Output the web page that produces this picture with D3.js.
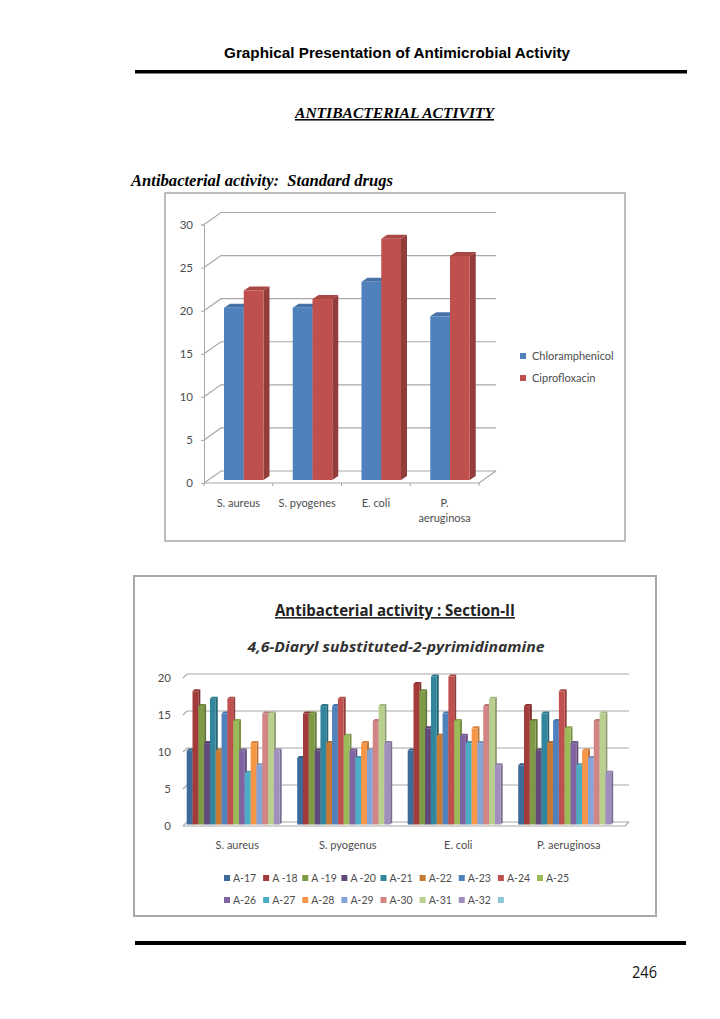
<!DOCTYPE html>
<html>
<head>
<meta charset="utf-8">
<script src="https://d3js.org/d3.v7.min.js"></script>
<style>
    html, body { margin: 0; padding: 0; background: #fff; }
    svg { display: block; }
</style>
</head>
<body>
<script>
// first chart
var drugCategories = ["S. aureus", "S. pyogenes", "E. coli", "P. aeruginosa"];
var drugNames = ["Chloramphenicol", "Ciprofloxacin"];
var chloramphenicol = [20, 20, 23, 19];
var ciprofloxacin = [22, 21, 28, 26];
var drugTicks = [0, 5, 10, 15, 20, 25, 30];
var drugColors = ["#4f81bd", "#c0504d"];

// second chart
var sectionCategories = ["S. aureus", "S. pyogenus", "E. coli", "P. aeruginosa"];
var sectionNames = ["A-17", "A -18", "A -19", "A -20", "A-21", "A-22", "A-23", "A-24", "A-25",
    "A-26", "A-27", "A-28", "A-29", "A-30", "A-31", "A-32", ""];
var sAureus = [10, 18, 16, 11, 17, 10, 15, 17, 14, 10, 7, 11, 8, 15, 15, 10];
var sPyogenus = [9, 15, 15, 10, 16, 11, 16, 17, 12, 10, 9, 11, 10, 14, 16, 11];
var eColi = [10, 19, 18, 13, 20, 12, 15, 20, 14, 12, 11, 13, 11, 16, 17, 8];
var pAeruginosa = [8, 16, 14, 10, 15, 11, 14, 18, 13, 11, 8, 10, 9, 14, 15, 7];
var sectionTicks = [0, 5, 10, 15, 20];
var sectionColors = ["#3d6a99", "#a23b39", "#7f9a44", "#604a7b", "#31859c", "#c77a35",
    "#4f81bd", "#c0504d", "#9bbb59", "#8064a2", "#4bacc6", "#f79646",
    "#84a4d8", "#d18584", "#b9cf8e", "#a08fbe", "#8cc7d6"];

const svg = d3.select("body").append("svg")
    .attr("width", 720)
    .attr("height", 1019)
    .attr("viewBox", [0, 0, 720, 1019]);

const labelFont = "Lato, 'Open Sans', sans-serif";
const labelColor = "#4d4d4d";
const gridColor = "#a8a8a8";

function pageText(text, x, y, size, family, opts) {
    return svg.append("text")
        .attr("x", x)
        .attr("y", y)
        .attr("font-family", family)
        .attr("font-size", size)
        .attr("font-weight", "bold")
        .attr("font-style", opts && opts.italic ? "italic" : "normal")
        .attr("text-decoration", opts && opts.underline ? "underline" : "none")
        .attr("text-anchor", opts && opts.anchor ? opts.anchor : "start")
        .attr("fill", opts && opts.fill ? opts.fill : "#000")
        .attr("textLength", opts && opts.length ? opts.length : null)
        .attr("lengthAdjust", "spacingAndGlyphs")
        .text(text);
}

function frame(x, y, w, h, sw) {
    svg.append("rect")
        .attr("x", x).attr("y", y).attr("width", w).attr("height", h)
        .attr("fill", "#fff")
        .attr("stroke", "#a8a8a8")
        .attr("stroke-width", sw);
}

// 3D column = front face, top and right side
function bar3d(g, x0, w, yTop, yBase, dx, dy, color) {
    const darker = d3.color(color).darker(0.75);
    const dark = d3.color(color).darker(0.35);
    g.append("path")
        .attr("fill", darker)
        .attr("d", d3.line()([[x0 + w, yTop], [x0 + w + dx, yTop - dy], [x0 + w + dx, yBase - dy], [x0 + w, yBase]]) + "Z");
    g.append("path")
        .attr("fill", dark)
        .attr("d", d3.line()([[x0, yTop], [x0 + dx, yTop - dy], [x0 + w + dx, yTop - dy], [x0 + w, yTop]]) + "Z");
    g.append("rect")
        .attr("x", x0)
        .attr("y", yTop)
        .attr("width", w)
        .attr("height", yBase - yTop)
        .attr("fill", color);
}

function walls(g, x, y, ticks, dx, dy, sw) {
    const [x0, x1] = x.range();
    g.selectAll(".grid")
        .data(ticks)
        .join("path")
        .attr("fill", "none")
        .attr("stroke", gridColor)
        .attr("stroke-width", sw)
        .attr("d", d => d3.line()([[x0, y(d)], [x0 + dx, y(d) - dy], [x1 + dx, y(d) - dy]]));
    g.append("path")
        .attr("fill", "none")
        .attr("stroke", gridColor)
        .attr("stroke-width", sw)
        .attr("d", d3.line()([[x0, y(0)], [x1, y(0)], [x1 + dx, y(0) - dy]]));
}

function drawDrugChart() {
    frame(165, 193, 460, 348, 1.5);
    const g = svg.append("g");
    const x = d3.scaleBand().domain(drugCategories).range([204, 479]);
    const y = d3.scaleLinear().domain([0, 30]).range([483, 224.5]);
    const dx = 17, dy = 12;
    walls(g, x, y, drugTicks, dx, dy, 1.2);

    // axis
    const axisY = g.append("g")
        .attr("transform", "translate(204,0)")
        .call(d3.axisLeft(y).tickValues(drugTicks).tickSize(3).tickPadding(8));
    axisY.select(".domain").attr("stroke", gridColor);
    axisY.selectAll("line").attr("stroke", gridColor);
    axisY.selectAll("text").attr("font-family", labelFont).attr("font-size", 11.5).attr("fill", labelColor);

    const axisX = g.append("g")
        .attr("transform", "translate(0,483)");
    axisX.selectAll("line")
        .data(drugCategories.concat(["end"]))
        .join("line")
        .attr("x1", (d, i) => i < 4 ? x(d) : x.range()[1])
        .attr("x2", (d, i) => i < 4 ? x(d) : x.range()[1])
        .attr("y2", 3)
        .attr("stroke", gridColor);

    const inner = d3.scaleBand().domain(drugNames).range([0, 39.5]);
    const series = [chloramphenicol, ciprofloxacin];
    drugCategories.forEach((c, i) => {
        drugNames.forEach((n, j) => {
            bar3d(g, x(c) + 20 + inner(n), inner.bandwidth(), y(series[j][i]) - 3, y(0) - 3, 6, 4, drugColors[j]);
        });
    });

    // category labels, last one wraps
    g.selectAll(".cat")
        .data(drugCategories)
        .join("text")
        .attr("text-anchor", "middle")
        .attr("font-family", labelFont)
        .attr("font-size", 11)
        .attr("fill", labelColor)
        .attr("x", d => x(d) + x.bandwidth() / 2)
        .attr("y", 507)
        .each(function (d) {
            const parts = d === "P. aeruginosa" ? ["P.", "aeruginosa"] : [d];
            d3.select(this).selectAll("tspan")
                .data(parts)
                .join("tspan")
                .attr("x", x(d) + x.bandwidth() / 2)
                .attr("dy", (p, k) => k ? 15 : 0)
                .text(p => p);
        });

    // legend
    const ly = d3.scalePoint().domain(drugNames).range([356, 378]);
    drugNames.forEach((n, j) => {
        g.append("rect").attr("x", 520).attr("y", ly(n) - 3).attr("width", 6).attr("height", 6).attr("fill", drugColors[j]);
        g.append("text").attr("x", 532).attr("y", ly(n) + 3.5)
            .attr("font-family", labelFont).attr("font-size", 11).attr("fill", labelColor).text(n);
    });
}

function drawSectionChart() {
    frame(134, 576, 522, 340, 2);
    pageText("Antibacterial activity : Section-II", 395, 616, 16, "'Open Sans', sans-serif",
        { anchor: "middle", underline: true, fill: "#222", length: 240 });
    pageText("4,6-Diaryl substituted-2-pyrimidinamine", 396, 652, 15, "'Open Sans', sans-serif",
        { anchor: "middle", italic: true, fill: "#333", length: 297 });

    const g = svg.append("g");
    const x = d3.scaleBand().domain(sectionCategories).range([183, 625]);
    const y = d3.scaleLinear().domain([0, 20]).range([826, 678]);
    const dx = 4, dy = 4;
    walls(g, x, y, sectionTicks, dx, dy, 1.2);

    g.selectAll(".tick-label")
        .data(sectionTicks)
        .join("text")
        .attr("x", 171)
        .attr("y", d => y(d) + 4)
        .attr("text-anchor", "end")
        .attr("font-family", labelFont)
        .attr("font-size", 11.5)
        .attr("fill", labelColor)
        .text(d => d);

    const series = [sAureus, sPyogenus, eColi, pAeruginosa];
    const inner = d3.scaleBand().domain(d3.range(16)).range([0, 93]);
    sectionCategories.forEach((c, i) => {
        series[i].forEach((v, j) => {
            bar3d(g, x(c) + 3.7 + inner(j), inner.bandwidth(), y(v) - 1.5, y(0) - 1.5, 2, 2, sectionColors[j]);
        });
        g.append("text")
            .attr("x", x(c) + x.bandwidth() / 2 - 1)
            .attr("y", 849)
            .attr("text-anchor", "middle")
            .attr("font-family", labelFont)
            .attr("font-size", 11)
            .attr("fill", labelColor)
            .text(c);
    });

    // legend, 9 per row
    const lx = d3.scaleLinear().domain([0, 8]).range([224, 537]);
    sectionNames.forEach((n, i) => {
        const col = i % 9, row = Math.floor(i / 9);
        const ly = row ? 900 : 878;
        g.append("rect").attr("x", lx(col)).attr("y", ly - 3).attr("width", 6).attr("height", 6).attr("fill", sectionColors[i]);
        g.append("text").attr("x", lx(col) + 9).attr("y", ly + 3.5)
            .attr("font-family", labelFont).attr("font-size", 10.5).attr("fill", labelColor).text(n);
    });
}

// page furniture
pageText("Graphical Presentation of Antimicrobial Activity", 224, 58, 14.5, "'Liberation Sans', sans-serif", { length: 346 });
svg.append("rect").attr("x", 135).attr("y", 70).attr("width", 552).attr("height", 3.5).attr("fill", "#000");
pageText("ANTIBACTERIAL ACTIVITY", 295, 118, 15.5, "'Liberation Serif', serif", { italic: true, underline: true, length: 199 });
pageText("Antibacterial activity:  Standard drugs", 131, 186, 16.5, "'Liberation Serif', serif", { italic: true, length: 262 }).attr("xml:space", "preserve");

drawDrugChart();
drawSectionChart();

svg.append("rect").attr("x", 135).attr("y", 941).attr("width", 551).attr("height", 4).attr("fill", "#000");
pageText("246", 632, 978, 16, "'Open Sans', sans-serif", { fill: "#111", length: 25 }).attr("font-weight", "normal");
</script>
</body>
</html>
